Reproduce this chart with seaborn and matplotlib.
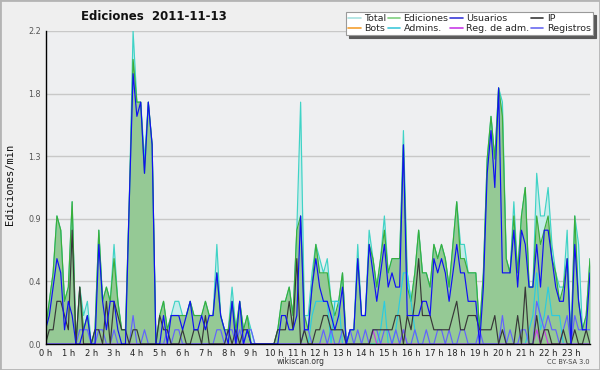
import numpy as np
import pandas as pd
import matplotlib
matplotlib.use("Agg")
import matplotlib.pyplot as plt
import seaborn as sns
from matplotlib.lines import Line2D
from matplotlib.patches import Rectangle

# one value per 10-minute slot (00:00 -> 23:50), in tenths of edits/min
total = [1, 3, 5, 9, 8, 3, 4, 10, 0, 4, 2, 3,
         0, 1, 8, 3, 4, 3, 7, 3, 1, 1, 10, 22,
         17, 17, 13, 17, 14, 0, 2, 3, 1, 2, 3, 3,
         2, 2, 3, 2, 2, 2, 3, 2, 2, 7, 2, 1,
         1, 4, 1, 3, 1, 2, 1, 0, 0, 0, 0, 0,
         0, 1, 3, 3, 4, 2, 8, 17, 2, 2, 5, 7,
         6, 5, 6, 3, 3, 3, 5, 0, 1, 1, 7, 2,
         2, 8, 6, 4, 6, 9, 5, 6, 6, 6, 15, 5,
         3, 5, 8, 5, 5, 4, 7, 6, 7, 6, 4, 7,
         10, 7, 7, 5, 5, 5, 1, 5, 13, 16, 13, 18,
         17, 6, 5, 10, 5, 9, 11, 4, 4, 12, 9, 9,
         11, 7, 5, 4, 4, 8, 0, 9, 7, 1, 2, 6]

ediciones = [1, 3, 5, 9, 8, 3, 4, 10, 0, 4, 1, 2,
             0, 1, 8, 3, 4, 3, 6, 3, 1, 1, 10, 20,
             17, 17, 12, 17, 14, 0, 2, 3, 1, 2, 2, 2,
             2, 2, 3, 2, 2, 2, 3, 2, 2, 5, 2, 1,
             1, 3, 1, 3, 1, 2, 0, 0, 0, 0, 0, 0,
             0, 1, 3, 3, 4, 2, 8, 9, 2, 1, 4, 7,
             5, 5, 5, 3, 2, 3, 5, 0, 1, 1, 6, 2,
             2, 7, 6, 4, 6, 8, 5, 6, 6, 6, 14, 4,
             3, 5, 8, 5, 5, 4, 7, 6, 7, 6, 4, 7,
             10, 6, 6, 5, 5, 5, 1, 5, 13, 16, 13, 18,
             16, 6, 5, 9, 5, 9, 11, 4, 4, 9, 7, 8,
             9, 6, 5, 3, 4, 6, 0, 9, 3, 1, 2, 6]

usuarios = [1, 2, 4, 6, 5, 1, 3, 2, 0, 0, 1, 2,
            0, 0, 7, 3, 1, 3, 3, 1, 0, 0, 10, 19,
            16, 17, 12, 17, 14, 0, 0, 2, 0, 2, 2, 2,
            1, 2, 3, 1, 1, 2, 1, 2, 2, 5, 2, 1,
            0, 3, 0, 3, 0, 1, 0, 0, 0, 0, 0, 0,
            0, 0, 2, 2, 1, 1, 2, 9, 1, 1, 4, 6,
            4, 3, 3, 2, 1, 2, 4, 0, 1, 1, 6, 2,
            2, 7, 5, 3, 5, 7, 4, 5, 4, 4, 14, 2,
            2, 2, 2, 3, 3, 2, 6, 5, 6, 5, 3, 5,
            7, 5, 5, 3, 3, 3, 0, 4, 12, 15, 11, 18,
            5, 5, 5, 8, 4, 8, 7, 4, 4, 7, 4, 8,
            8, 6, 4, 3, 3, 6, 0, 7, 3, 1, 1, 5]

ip = [0, 1, 1, 3, 3, 2, 1, 8, 0, 4, 0, 0,
      0, 1, 1, 0, 3, 0, 3, 2, 1, 1, 0, 1,
      1, 0, 0, 0, 0, 0, 2, 1, 1, 0, 0, 0,
      1, 0, 0, 1, 1, 0, 2, 0, 0, 0, 0, 0,
      1, 0, 1, 0, 1, 1, 0, 0, 0, 0, 0, 0,
      0, 1, 1, 1, 3, 1, 6, 0, 1, 0, 0, 1,
      1, 2, 2, 1, 1, 1, 1, 0, 0, 0, 0, 0,
      0, 0, 1, 1, 1, 1, 1, 1, 2, 2, 0, 2,
      1, 3, 6, 2, 2, 2, 1, 1, 1, 1, 1, 2,
      3, 1, 1, 2, 2, 2, 1, 1, 1, 1, 2, 0,
      1, 0, 0, 0, 2, 0, 4, 0, 0, 2, 0, 1,
      1, 0, 0, 0, 1, 0, 0, 1, 0, 0, 1, 0]

# no bot edits that day
bots = [0] * 144

admins = [0, 0, 0, 0, 0, 0, 0, 0, 0, 0, 0, 0,
          0, 0, 0, 0, 0, 0, 0, 0, 0, 0, 0, 0,
          0, 0, 0, 0, 0, 0, 0, 0, 0, 0, 0, 0,
          0, 0, 0, 0, 0, 0, 0, 0, 0, 0, 0, 0,
          0, 0, 0, 0, 0, 0, 0, 0, 0, 0, 0, 0,
          0, 0, 0, 0, 0, 0, 0, 0, 0, 0, 2, 3,
          3, 3, 3, 0, 3, 3, 0, 0, 0, 0, 0, 0,
          0, 0, 0, 0, 1, 3, 0, 0, 1, 3, 5, 5,
          3, 1, 0, 0, 0, 0, 0, 0, 0, 0, 0, 0,
          0, 0, 0, 0, 0, 0, 0, 0, 0, 0, 0, 0,
          0, 0, 0, 0, 0, 0, 0, 1, 2, 5, 1, 2,
          4, 2, 2, 2, 0, 0, 0, 0, 0, 0, 0, 0]

reg_adm = [0, 0, 0, 0, 0, 0, 0, 0, 0, 0, 0, 0,
           0, 0, 0, 0, 0, 0, 0, 0, 0, 0, 0, 0,
           0, 0, 0, 0, 0, 0, 0, 0, 0, 0, 0, 0,
           0, 0, 0, 0, 0, 0, 0, 0, 0, 0, 0, 0,
           0, 0, 0, 0, 0, 0, 0, 0, 0, 0, 0, 0,
           0, 0, 0, 0, 0, 0, 0, 0, 0, 0, 0, 0,
           0, 0, 0, 0, 0, 0, 0, 0, 0, 0, 0, 0,
           0, 0, 1, 0, 0, 0, 0, 0, 0, 0, 1, 0,
           0, 0, 0, 0, 0, 0, 0, 0, 0, 0, 0, 0,
           0, 0, 0, 0, 0, 0, 0, 0, 0, 0, 0, 0,
           0, 0, 0, 0, 0, 0, 0, 0, 0, 1, 0, 1,
           0, 0, 0, 0, 0, 0, 0, 0, 0, 0, 0, 0]

registros = [0, 0, 0, 0, 0, 0, 0, 0, 0, 1, 1, 1,
             0, 0, 1, 1, 0, 0, 1, 0, 0, 0, 0, 2,
             0, 0, 1, 0, 0, 0, 0, 0, 1, 0, 1, 1,
             0, 0, 0, 0, 0, 0, 0, 0, 0, 1, 1, 0,
             1, 1, 0, 1, 0, 1, 1, 0, 0, 0, 0, 0,
             0, 0, 0, 0, 0, 0, 0, 0, 1, 1, 0, 0,
             0, 1, 0, 1, 0, 0, 1, 0, 1, 0, 1, 0,
             1, 0, 1, 1, 0, 1, 1, 0, 1, 0, 1, 0,
             0, 1, 0, 0, 1, 0, 0, 1, 1, 0, 1, 0,
             0, 1, 1, 0, 0, 0, 1, 0, 0, 0, 0, 0,
             2, 0, 1, 0, 0, 1, 1, 0, 0, 3, 2, 1,
             2, 1, 1, 0, 1, 2, 0, 2, 1, 1, 1, 1]

hour_labels = [f"{h} h" for h in range(24)]
ytick_pos = [0, 0.44, 0.88, 1.32, 1.76, 2.2]
ytick_labels = ["0.0", "0.4", "0.9", "1.3", "1.8", "2.2"]

df = pd.DataFrame({
    "Total": total, "Ediciones": ediciones, "Usuarios": usuarios, "IP": ip,
    "Bots": bots, "Admins.": admins, "Reg. de adm.": reg_adm, "Registros": registros,
}) / 10.0
df["slot"] = np.arange(len(df))

# line colour in the plot, colour of the legend sample
styles = {
    "Total": ("#3fd3c6", "#a8e2e0"),
    "Ediciones": ("#3aae3a", "#7fcf7f"),
    "Usuarios": ("#1010f4", "#3a3ad8"),
    "IP": ("#383838", "#3a3a3a"),
    "Bots": ("#f5a030", "#f5a030"),
    "Admins.": ("#2ccbe0", "#40c8da"),
    "Reg. de adm.": ("#c83ce6", "#c83ce6"),
    "Registros": ("#6262ff", "#6a6af0"),
}
draw_order = ["Total", "Ediciones", "Bots", "Admins.", "Reg. de adm.", "Registros", "IP", "Usuarios"]
legend_order = ["Total", "Bots", "Ediciones", "Admins.", "Usuarios", "Reg. de adm.", "IP", "Registros"]

sns.set_theme(style="white")
plt.rcParams["font.family"] = ["DejaVu Sans"]

fig = plt.figure(figsize=(6, 3.7), dpi=100, facecolor="#efefef")
ax = fig.add_axes([45.5 / 600, 26 / 370, 544.5 / 600, 313 / 370])
ax.set_facecolor("#eeeff1")

ax.fill_between(df["slot"], 0, df["Total"], color="#c6ecea", lw=0, zorder=1)
ax.fill_between(df["slot"], 0, df["Ediciones"], color="#95c995", lw=0, zorder=1.1)

for name in draw_order:
    sns.lineplot(data=df, x="slot", y=name, ax=ax, color=styles[name][0],
                 lw=0.85, legend=False, zorder=2)

ax.set_xlim(0, len(df) - 1)
ax.set_ylim(0, 2.2)
ax.set_xticks(np.arange(0, len(df), 6))
ax.set_xticklabels(hour_labels)
ax.set_xticks(np.arange(len(df)), minor=True)
ax.set_yticks(ytick_pos)
ax.set_yticklabels(ytick_labels)
ax.set_yticks(np.arange(0, 2.21, 0.11), minor=True)
ax.set_xlabel("")
ax.set_ylabel("")

ax.tick_params(axis="both", which="both", direction="out", color="black", width=0.8, pad=0.5)
ax.tick_params(axis="both", which="major", length=3)
ax.tick_params(axis="both", which="minor", length=2.5)
ax.tick_params(axis="x", labelsize=6, labelcolor="#222")
ax.tick_params(axis="y", labelsize=5.8, labelcolor="#555")

ax.yaxis.grid(True, which="major", color="#c8c8c8", lw=1)
ax.xaxis.grid(False)
ax.set_axisbelow(True)
for side in ["top", "right"]:
    ax.spines[side].set_visible(False)
for side in ["left", "bottom"]:
    ax.spines[side].set_color("black")
    ax.spines[side].set_linewidth(1)

handles = [Line2D([], [], color=styles[n][1], lw=1.2) for n in legend_order]
leg = ax.legend(handles, legend_order, ncol=4, loc="upper right",
                bbox_to_anchor=(593 / 600, 1 - 12 / 370), bbox_transform=fig.transFigure,
                fontsize=6.8, frameon=True, fancybox=False, borderaxespad=0, borderpad=0.25,
                handlelength=1.3, handletextpad=0.35, columnspacing=0.2, labelspacing=0.05,
                shadow={"color": "#5a5a5a", "alpha": 1})
leg.get_frame().set_edgecolor("#9a9a9a")
leg.get_frame().set_linewidth(0.8)
leg.get_frame().set_facecolor("white")
leg.get_frame().set_alpha(1)

fig.text(154 / 600, 1 - 16 / 370, "Ediciones  2011-11-13", ha="center", va="center",
         fontsize=8.5, fontweight="bold", color="#111")
fig.text(10 / 600, 1 - 184 / 370, "Ediciones/min", rotation=90, ha="center", va="center",
         fontsize=7.5, family="DejaVu Sans Mono", color="#111")
fig.text(301 / 600, 1 - 362 / 370, "wikiscan.org", ha="center", va="center",
         fontsize=5.5, color="#333")
fig.text(590 / 600, 1 - 362.5 / 370, "CC BY-SA 3.0", ha="right", va="center",
         fontsize=4.8, color="#444")

fig.patches.append(Rectangle((0, 0), 1, 1, transform=fig.transFigure, fill=False,
                             edgecolor="#b4b4b4", lw=2))

fig.savefig("out.png", dpi=100, facecolor=fig.get_facecolor())
